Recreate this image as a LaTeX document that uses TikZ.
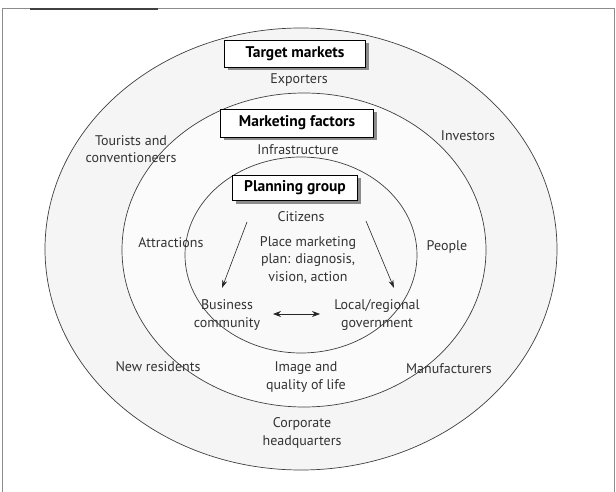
\documentclass[tikz,border=0pt]{standalone}
\usepackage{fontspec}
\setmainfont{PT Sans}
\usetikzlibrary{arrows.meta,shadows}
\begin{document}
\begin{tikzpicture}[x=1pt,y=-1pt,
  lbl/.style={text=black!80, font=\fontsize{14}{17.5}\selectfont, align=center, inner sep=0pt},
  titlebox/.style={draw=black, line width=0.9pt, fill=white, text=black,
    font=\bfseries\fontsize{15.5}{18}\selectfont, inner sep=0pt,
    drop shadow={shadow xshift=3pt, shadow yshift=-3pt, fill=black!45, opacity=1}},
  ring/.style={draw=black!75, line width=0.7pt},
  arr/.style={draw=black!85, line width=0.6pt, -{Stealth[length=8pt,width=5pt]}},
  dblarr/.style={draw=black!85, line width=0.7pt, {Stealth[length=8pt,width=6pt]}-{Stealth[length=8pt,width=6pt]}},
  framestyle/.style={draw=black!45, line width=1pt}
]
\useasboundingbox (0,0) rectangle (616,492);
\fill[white] (0,0) rectangle (616,492);
% frame
\draw[framestyle] (2,492) -- (2,9) -- (614,9) -- (614,492);
\draw[draw=black!75, line width=1.2pt] (30,9) -- (158,9);
% rings
\draw[ring, fill=black!4] (301,249) ellipse [x radius=256, y radius=221];
\draw[ring, fill=black!1.5] (304,250) ellipse [x radius=182, y radius=157];
\draw[ring, fill=black!2.5] (301,255) ellipse [x radius=116, y radius=98];
% title boxes
\node[titlebox, minimum width=141pt, minimum height=27pt] (target) at (295,54) {Target markets};
\node[titlebox, minimum width=153pt, minimum height=28pt] (factors) at (297,123) {Marketing factors};
\node[titlebox, minimum width=125pt, minimum height=25pt] (planning) at (295,188) {Planning group};
% outer ring labels
\node[lbl] (exporters) at (299,80) {Exporters};
\node[lbl] (tourists) at (131,149) {Tourists and\\conventioneers};
\node[lbl] (investors) at (468,136) {Investors};
\node[lbl] (newres) at (158,367) {New residents};
\node[lbl] (manuf) at (449,369) {Manufacturers};
\node[lbl] (corp) at (302,433) {Corporate\\headquarters};
% middle ring labels
\node[lbl] (infra) at (298,150) {Infrastructure};
\node[lbl] (attr) at (171,243) {Attractions};
\node[lbl] (people) at (447,247) {People};
\node[lbl] (image) at (306,377) {Image and\\quality of life};
% inner labels
\node[lbl] (citizens) at (301,217) {Citizens};
\node[lbl] (plan) at (308,260) {Place marketing\\plan: diagnosis,\\vision, action};
\node[lbl] (business) at (227,315) {Business\\community};
\node[lbl] (gov) at (377,315) {Local/regional\\government};
% arrows
\coordinate (la1) at (247,222);
\coordinate (la2) at (222,288);
\coordinate (ra1) at (366,221);
\coordinate (ra2) at (394,288);
\coordinate (da1) at (273,314);
\coordinate (da2) at (320,314);
\draw[arr] (la1) -- (la2);
\draw[arr] (ra1) -- (ra2);
\draw[dblarr] (da1) -- (da2);
\end{tikzpicture}
\end{document}
